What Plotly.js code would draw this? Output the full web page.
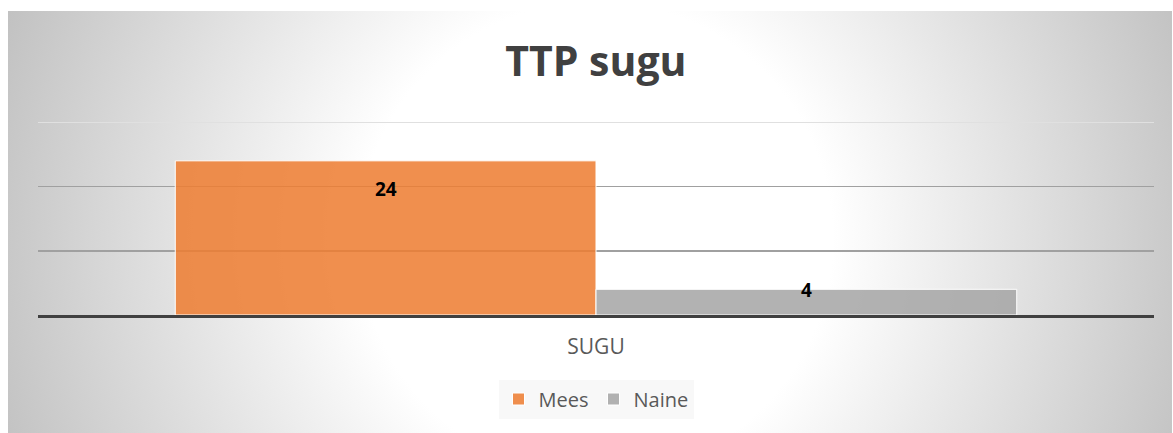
<!DOCTYPE html>
<html><head><meta charset="utf-8">
<script src="https://cdn.plot.ly/plotly-3.0.1.min.js"></script>
<style>
html,body{margin:0;padding:0;background:#fff;}
#chart{width:1173px;height:433px;background-color:#fff;
background-image: radial-gradient(circle 640px at 50.5% 54%, #ffffff 37%, #c9c9c9 91%, #c0c0c0 100%);
background-repeat:no-repeat;background-position:8px 11px;background-size:1164px 422px;}
</style></head><body><div id="chart"></div>
<script>
const categories = ['SUGU'];
const seriesNames = ['Mees', 'Naine'];
const meesValues = [24];
const naineValues = [4];
const chartTitle = 'TTP sugu';

const colors = ['rgba(237,125,49,0.86)', 'rgba(165,165,165,0.86)'];
const allValues = [meesValues, naineValues];
const bargap = 0.246;
const barW = (1 - bargap) / 2;

const traces = allValues.map((vals, i) => ({
  type: 'bar', name: seriesNames[i], x: categories, y: vals,
  marker: {color: colors[i], line: {color: '#ffffff', width: 1}},
  hoverinfo: 'none'
}));

const annotations = [];
allValues.forEach((vals, i) => {
  vals.forEach((v, j) => {
    const off = (i - 0.5) * barW;
    annotations.push({
      x: j + off, xref: 'x', y: v, yref: 'y', text: String(v), showarrow: false,
      yanchor: 'middle', yshift: v > 10 ? -28 : -1,
      font: {family: 'Open Sans', size: 19, color: '#000000', weight: 'bold'}
    });
  });
});

const layout = {
  width: 1173, height: 433,
  paper_bgcolor: 'rgba(0,0,0,0)', plot_bgcolor: 'rgba(0,0,0,0)',
  margin: {l: 38, r: 19, t: 121, b: 118},
  title: {text: chartTitle, x: 0.508, xanchor: 'center', yref: 'container', y: 1 - 62/433, yanchor: 'middle',
    font: {family: 'Open Sans', size: 41, color: '#404040', weight: 'bold'}},
  barmode: 'group', bargap: bargap, bargroupgap: 0,
  xaxis: {type: 'category', range: [-0.5, 0.5], showline: true, linecolor: '#404040', linewidth: 3,
    ticks: '', ticklabelstandoff: 11, tickfont: {family: 'Open Sans', size: 21, color: '#595959'}, showgrid: false},
  yaxis: {range: [0, 30.2], tickvals: [10, 20, 30], gridcolor: '#a0a0a0', gridwidth: 1.5, zeroline: false, showticklabels: false},
  showlegend: true,
  legend: {orientation: 'h', x: 0.5, xanchor: 'center', yref: 'container', y: 1 - 399/433, yanchor: 'middle',
    font: {family: 'Open Sans', size: 20, color: '#595959'}, bgcolor: '#f8f8f8', itemclick: false},
  annotations: annotations
};
Plotly.newPlot('chart', traces, layout, {displayModeBar: false, staticPlot: true}).then(gd => {
  // lighten the top (30) gridline like the reference
  const lines = gd.querySelectorAll('.ygrid');
  lines.forEach(l => {
    const t = l.getAttribute('transform') || '';
    const m = t.match(/translate\(0,\s*([\d.]+)\)/);
    if (m && parseFloat(m[1]) < 128) l.style.stroke = '#e0e0e0';
  });
});
</script></body></html>
